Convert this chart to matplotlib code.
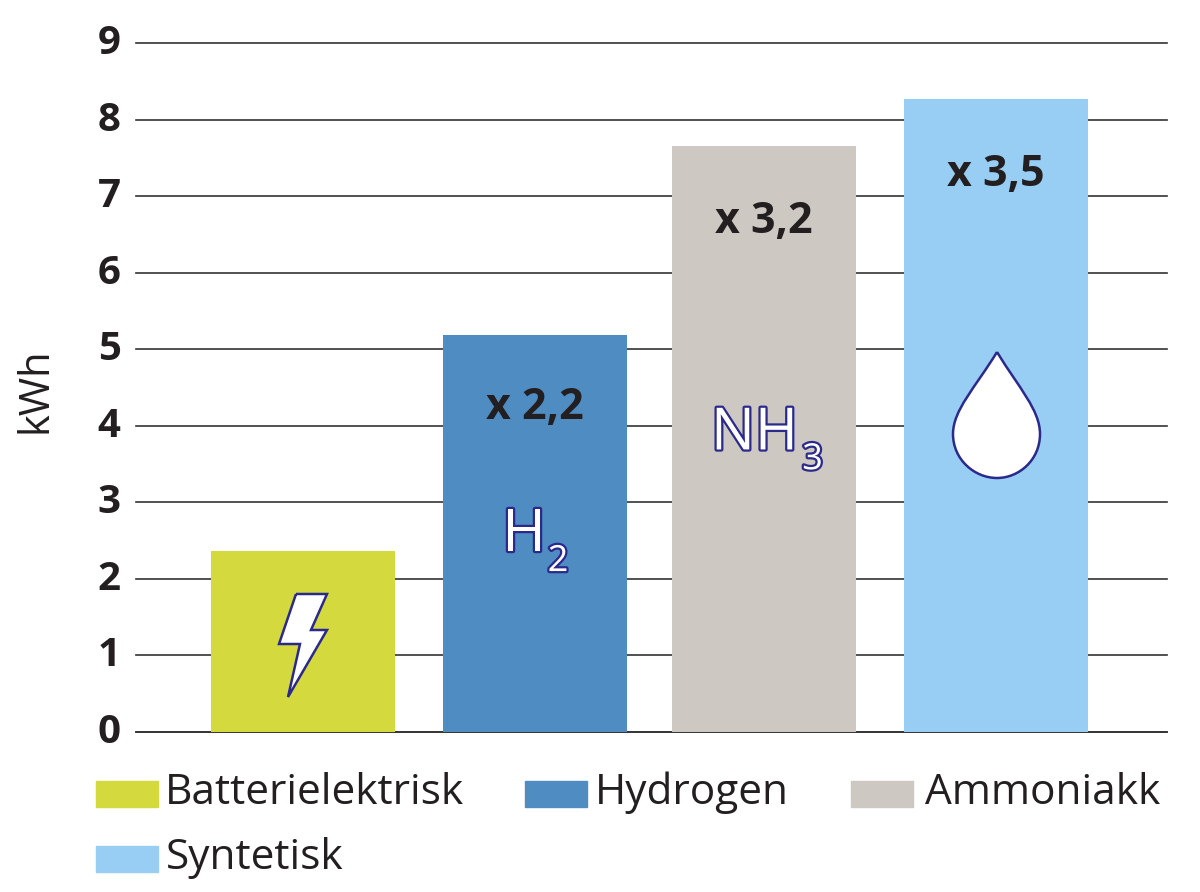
import numpy as np
import matplotlib.pyplot as plt
import matplotlib.patheffects as pe
from matplotlib.patches import PathPatch, Rectangle
from matplotlib.path import Path
from matplotlib.transforms import ScaledTranslation

categories = ["Batterielektrisk", "Hydrogen", "Ammoniakk", "Syntetisk"]
values = [2.36, 5.19, 7.65, 8.27]
colors = ["#d4da3e", "#4f8cc2", "#cdc9c2", "#98cdf4"]
factors = ["", "x 2,2", "x 3,2", "x 3,5"]
factor_y = [None, 4.24, 6.67, 7.28]
yticks = [0, 1, 2, 3, 4, 5, 6, 7, 8, 9]

plt.rcParams['font.family'] = ['Open Sans', 'DejaVu Sans']
dark = "#231f20"
outline = "#2b2a8c"

fig = plt.figure(figsize=(12, 8.92), dpi=100)
# pixel box of the plot: x 136-1167, y 43-732
ax = fig.add_axes([136/1200, 1-732/892, (1167-136)/1200, (732-43)/892])
x = np.array([302.5, 534.5, 763.5, 995.5])
ax.bar(x, values, width=184, color=colors, zorder=3)
ax.set_xlim(136, 1167)
ax.set_ylim(0, 9)
ax.set_yticks(yticks)
ax.set_xticks([])
ax.yaxis.grid(True, color="#333333", linewidth=1.2, zorder=1, clip_on=False)
ax.tick_params(axis="y", length=0, pad=11)
shift = ScaledTranslation(0, 4/100, fig.dpi_scale_trans)
for lab in ax.get_yticklabels():
    lab.set_fontsize(29)
    lab.set_fontweight("bold")
    lab.set_color(dark)
    lab.set_transform(lab.get_transform() + shift)
for s in ["top", "left", "right"]:
    ax.spines[s].set_visible(False)
ax.spines["bottom"].set_color("#333333")
ax.spines["bottom"].set_linewidth(1.2)
ax.set_ylabel("kWh", fontsize=30, color=dark, labelpad=0)
ax.yaxis.set_label_coords((56-136)/1031, 0.496)

for xi, f, fy in zip(x, factors, factor_y):
    if f:
        ax.text(xi, fy, f, ha="center", va="center", fontsize=31, fontweight="bold", color=dark, zorder=5)

# icons: outlined white text
stroke = [pe.withStroke(linewidth=3.2, foreground=outline)]
ax.text(524, 2.57, "H", ha="center", va="center", fontsize=42, color="white", path_effects=stroke, zorder=5)
ax.text(558, 2.22, "2", ha="center", va="center", fontsize=26, color="white", path_effects=stroke, zorder=5)
ax.text(754.5, 3.89, "NH", ha="center", va="center", fontsize=42, color="white", path_effects=stroke, zorder=5)
ax.text(812.5, 3.55, "3", ha="center", va="center", fontsize=26, color="white", path_effects=stroke, zorder=5)

def px(xp, yp):
    return (xp, (732-yp)/689*9)

# lightning bolt
bolt = [(296, 594), (327, 594), (311, 630), (327, 630), (288, 697), (300, 644), (279, 644), (296, 594)]
ax.add_patch(PathPatch(Path([px(*p) for p in bolt], closed=False), facecolor="white", edgecolor=outline, linewidth=1.8, zorder=5))

# drop
drop_v = [(997, 352), (975, 388), (953, 410), (953, 434), (953, 460), (975, 478), (997, 478),
          (1019, 478), (1040, 460), (1040, 434), (1040, 410), (1019, 388), (997, 352)]
drop_c = [Path.MOVETO] + [Path.CURVE4]*12
ax.add_patch(PathPatch(Path([px(*p) for p in drop_v], drop_c), facecolor="white", edgecolor=outline, linewidth=1.8, zorder=5))

# legend drawn in figure pixels
leg_x = [96, 525, 851, 96]
leg_y = [794, 794, 794, 859]
text_x = [165, 595, 925, 166]
for name, c, lx, ly, tx in zip(categories, colors, leg_x, leg_y, text_x):
    fig.add_artist(Rectangle((lx/1200, 1-(ly+13)/892), 62/1200, 26/892, color=c, transform=fig.transFigure))
    fig.text(tx/1200, 1-(ly-1)/892, name, fontsize=30.5, color=dark, va="center", ha="left")

fig.savefig("out.png", dpi=100)
